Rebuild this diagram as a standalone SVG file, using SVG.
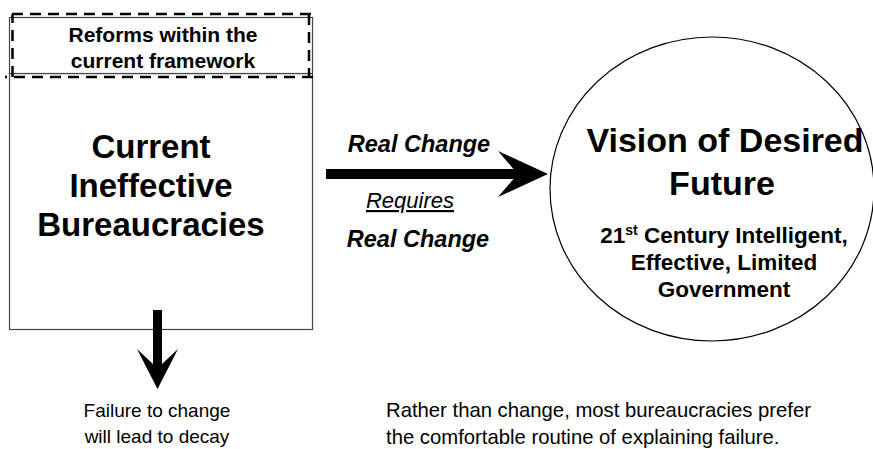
<svg xmlns="http://www.w3.org/2000/svg" width="873" height="449" viewBox="0 0 873 449">
<style>
text{font-family:"Liberation Sans",Arial,sans-serif;fill:#000}
.b{font-weight:bold}
.bi{font-weight:bold;font-style:italic}
.box{fill:#fff;stroke:#444;stroke-width:1.2}
.dash{fill:none;stroke:#000;stroke-width:2.5;stroke-dasharray:11 7}
.arr{fill:#000;stroke:none}
</style>
<rect width="873" height="449" fill="#fff"/>
<g id="bureaucracies">
<rect class="box" x="9.5" y="73.5" width="303" height="256"/>
<text class="b" font-size="33" text-anchor="middle" x="151" y="158">Current</text>
<text class="b" font-size="33" text-anchor="middle" x="151" y="197">Ineffective</text>
<text class="b" font-size="33" text-anchor="middle" x="151" y="236">Bureaucracies</text>
</g>
<g id="reforms">
<rect class="box" x="9.5" y="17.5" width="303" height="56"/>
<path class="dash" d="M12,14 H314 M309,14 V77 M313,77 H5 M12.5,77 V14"/>
<text class="b" font-size="21" text-anchor="middle" x="163" y="42">Reforms within the</text>
<text class="b" font-size="21" text-anchor="middle" x="163" y="68">current framework</text>
</g>
<g id="vision">
<ellipse cx="712" cy="189" rx="162" ry="152" fill="#fff" stroke="#000" stroke-width="1.2"/>
<text class="b" font-size="34" text-anchor="middle" x="725" y="152">Vision of Desired</text>
<text class="b" font-size="34" text-anchor="middle" x="722" y="195">Future</text>
<text class="b" font-size="22.5" text-anchor="middle" x="724" y="243">21<tspan font-size="14" dy="-8">st</tspan><tspan dy="8"> Century Intelligent,</tspan></text>
<text class="b" font-size="22.5" text-anchor="middle" x="724" y="270">Effective, Limited</text>
<text class="b" font-size="22.5" text-anchor="middle" x="724" y="297">Government</text>
</g>
<g id="connectors">
<path class="arr" d="M326,169 L513.5,169 L498,151 L548,174 L498,197 L513.5,179 L326,179 Z"/>
<path class="arr" d="M153,310 L162,310 L162,364 L178,349 L157.5,389 L137,349 L153,364 Z"/>
<text class="bi" font-size="23.5" text-anchor="middle" x="419" y="152">Real Change</text>
<text font-size="22" font-style="italic" text-anchor="middle" x="410" y="208" text-decoration="underline">Requires</text>
<text class="bi" font-size="23.5" text-anchor="middle" x="418" y="247">Real Change</text>
</g>
<g id="decay">
<text font-size="19" text-anchor="middle" x="157" y="417">Failure to change</text>
<text font-size="19" text-anchor="middle" x="157" y="443">will lead to decay</text>
</g>
<g id="note">
<text font-size="20.3" x="386" y="417">Rather than change, most bureaucracies prefer</text>
<text font-size="20.3" x="386" y="444">the comfortable routine of explaining failure.</text>
</g>
</svg>
